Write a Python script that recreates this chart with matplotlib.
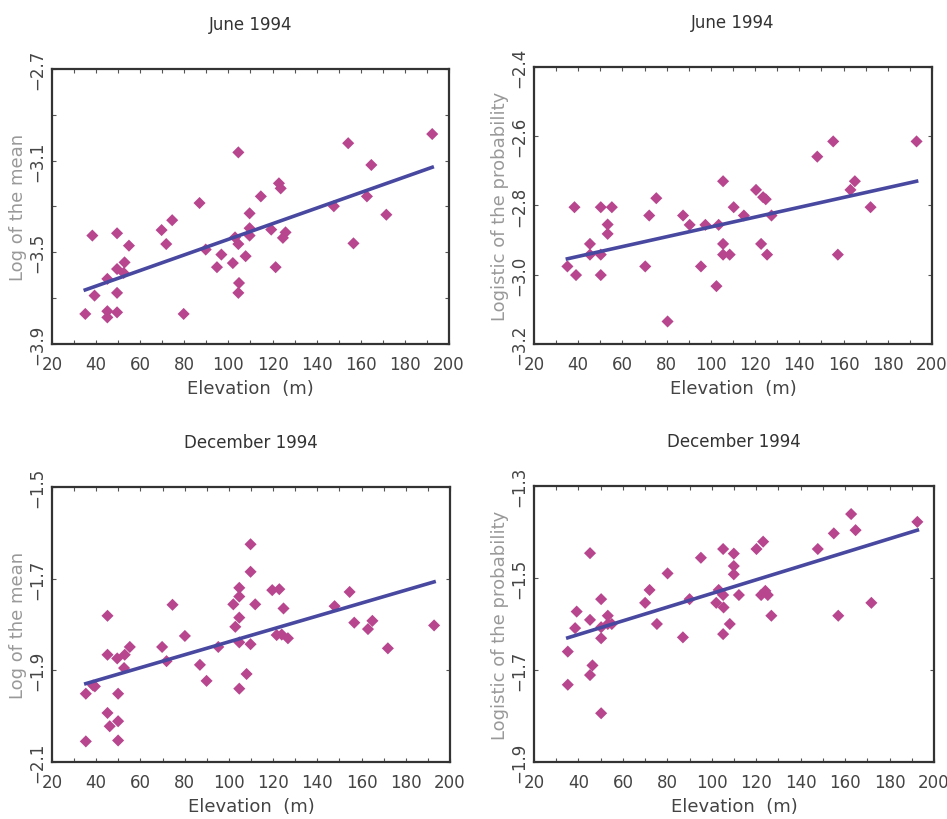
import matplotlib
matplotlib.use("Agg")
import matplotlib.pyplot as plt
import numpy as np
from matplotlib.ticker import MultipleLocator, FixedLocator

# June 1994, log of the mean
x1 = [35.1, 38.3, 39.3, 45.1, 45.1, 45.1, 49.5, 49.5, 49.5, 49.5, 52.5, 52.9, 54.9,
      69.7, 71.8, 74.5, 79.7, 86.9, 89.7, 94.8, 96.8, 102.0, 103.0, 104.5, 104.5,
      104.8, 104.5, 107.8, 109.6, 109.6, 109.6, 114.7, 119.4, 121.4, 122.9, 123.7,
      124.7, 125.9, 147.8, 154.3, 156.7, 162.8, 164.8, 171.6, 192.4]
y1 = [-3.769, -3.427, -3.689, -3.616, -3.757, -3.784, -3.417, -3.573, -3.677, -3.762,
      -3.590, -3.544, -3.471, -3.403, -3.464, -3.360, -3.769, -3.285, -3.488, -3.565,
      -3.510, -3.547, -3.435, -3.064, -3.464, -3.634, -3.677, -3.517, -3.330, -3.395,
      -3.427, -3.256, -3.401, -3.565, -3.199, -3.221, -3.437, -3.413, -3.299, -3.024,
      -3.461, -3.256, -3.119, -3.336, -2.984]
fit1 = [(35.1, -3.664), (192.4, -3.129)]
yt1 = [-3.9, -3.5, -3.1, -2.7]
ym1 = [-3.7, -3.3, -2.9]

# June 1994, logistic of the probability
x2 = [35.1, 38.3, 39.0, 45.3, 45.3, 50.2, 50.2, 50.2, 53.3, 53.3, 55.2, 70.3, 72.1,
      75.3, 80.4, 87.4, 90.4, 95.5, 97.5, 102.5, 103.5, 105.5, 105.5, 105.5, 108.5,
      110.3, 114.9, 120.4, 122.7, 123.6, 124.8, 125.4, 127.4, 148.1, 155.3, 157.4,
      163.1, 165.1, 172.2, 193.0]
y2 = [-2.976, -2.805, -3.001, -2.911, -2.942, -2.805, -2.942, -3.001, -2.855, -2.882,
      -2.805, -2.976, -2.829, -2.779, -3.135, -2.829, -2.856, -2.976, -2.856, -3.033,
      -2.856, -2.730, -2.911, -2.942, -2.942, -2.805, -2.829, -2.755, -2.911, -2.776,
      -2.782, -2.942, -2.829, -2.659, -2.615, -2.942, -2.755, -2.730, -2.805, -2.615]
fit2 = [(35.1, -2.954), (193.0, -2.730)]
yt2 = [-3.2, -3.0, -2.8, -2.6, -2.4]

# December 1994, log of the mean
x3 = [35.3, 35.3, 38.6, 39.4, 45.1, 45.1, 45.1, 46.1, 49.5, 49.9, 49.9, 49.9, 52.6,
      52.9, 55.2, 69.8, 71.8, 74.5, 80.1, 86.9, 89.9, 95.2, 102.0, 102.9, 104.7,
      104.7, 104.7, 104.7, 104.7, 108.0, 109.8, 109.8, 109.8, 111.9, 119.6, 122.8,
      121.6, 123.9, 124.7, 126.7, 147.8, 154.6, 156.7, 162.9, 164.9, 171.9, 192.8]
y3 = [-1.951, -2.055, -1.933, -1.935, -1.781, -1.866, -1.993, -2.022, -1.874, -1.951,
      -2.011, -2.053, -1.895, -1.866, -1.849, -1.849, -1.880, -1.757, -1.825, -1.888,
      -1.923, -1.849, -1.756, -1.805, -1.720, -1.739, -1.785, -1.839, -1.940, -1.908,
      -1.625, -1.685, -1.843, -1.756, -1.725, -1.723, -1.823, -1.822, -1.765, -1.830,
      -1.760, -1.729, -1.796, -1.810, -1.792, -1.852, -1.802]
fit3 = [(35.3, -1.929), (192.8, -1.707)]
yt3 = [-2.1, -1.9, -1.7, -1.5]

# December 1994, logistic of the probability
x4 = [35.2, 35.2, 38.5, 39.2, 45.2, 45.2, 45.2, 46.3, 50.2, 50.2, 50.2, 50.2, 53.2,
      53.2, 55.0, 70.0, 72.0, 75.3, 80.1, 87.0, 90.0, 95.1, 102.0, 103.1, 105.1,
      105.1, 105.3, 105.1, 108.1, 109.9, 109.9, 109.9, 112.2, 120.1, 122.2, 123.1,
      124.1, 125.2, 126.8, 147.7, 154.9, 156.9, 162.7, 164.7, 171.8, 192.5]
y4 = [-1.660, -1.732, -1.609, -1.573, -1.446, -1.591, -1.711, -1.690, -1.546, -1.607,
      -1.631, -1.794, -1.582, -1.600, -1.600, -1.554, -1.526, -1.600, -1.490, -1.629,
      -1.546, -1.456, -1.554, -1.526, -1.437, -1.537, -1.564, -1.622, -1.600, -1.447,
      -1.474, -1.492, -1.537, -1.437, -1.537, -1.421, -1.528, -1.537, -1.582, -1.437,
      -1.403, -1.582, -1.361, -1.396, -1.554, -1.378]
fit4 = [(35.2, -1.630), (192.5, -1.396)]
yt4 = [-1.9, -1.7, -1.5, -1.3]

panels = [
    ("June 1994", "Log of the mean", x1, y1, fit1, yt1, ym1),
    ("June 1994", "Logistic of the probability", x2, y2, fit2, yt2, None),
    ("December 1994", "Log of the mean", x3, y3, fit3, yt3, None),
    ("December 1994", "Logistic of the probability", x4, y4, fit4, yt4, None),
]

# axes rectangles in figure fractions
rects = [
    [0.0549, 0.5793, 0.4192, 0.3354],
    [0.5639, 0.5793, 0.4203, 0.3378],
    [0.0549, 0.0695, 0.4203, 0.3354],
    [0.5639, 0.0695, 0.4224, 0.3366],
]

plt.rcParams['font.family'] = ['DejaVu Sans']
fig = plt.figure(figsize=(9.47, 8.2), dpi=100)

for (title, ylab, xs, ys, fit, yt, ym), r in zip(panels, rects):
    ax = fig.add_axes(r)
    ax.scatter(xs, ys, marker="D", s=38, color="#b8468f", edgecolors="none", zorder=3)
    fx = [p[0] for p in fit]
    fy = [p[1] for p in fit]
    ax.plot(fx, fy, color="#4848a0", linewidth=2.6, zorder=4)

    ax.set_xlim(20, 200)
    ax.set_ylim(yt[0], yt[-1])
    ax.xaxis.set_major_locator(MultipleLocator(20))
    ax.xaxis.set_minor_locator(MultipleLocator(10))
    ax.yaxis.set_major_locator(FixedLocator(yt))
    ax.set_yticklabels([f"{v:.1f}".replace("-", "\u2212") for v in yt])
    if ym:
        ax.yaxis.set_minor_locator(FixedLocator(ym))
    ax.tick_params(which="both", direction="in", top=True, right=True,
                   length=3, width=0.8, color="#555555",
                   labelsize=12, labelcolor="#444444")
    ax.tick_params(axis="x", pad=8)
    ax.tick_params(axis="y", pad=4)
    for lab in ax.get_yticklabels():
        lab.set_rotation(90)
        lab.set_va("center")
    for s in ax.spines.values():
        s.set_linewidth(1.6)
        s.set_color("#333333")

    ax.set_title(title, fontsize=12, color="#333333", pad=29)
    ax.set_xlabel("Elevation  (m)", fontsize=13, color="#444444", labelpad=4)
    ax.set_ylabel(ylab, fontsize=13, color="#999999", labelpad=1)

fig.savefig("out.png", dpi=100)
